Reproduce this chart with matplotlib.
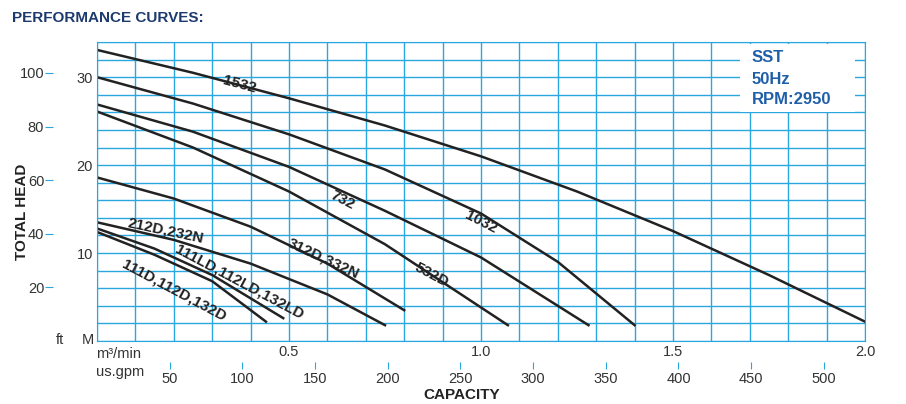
import matplotlib
matplotlib.use("Agg")
import matplotlib.pyplot as plt
from matplotlib.patches import Rectangle

plt.rcParams["font.family"] = ["Liberation Sans", "DejaVu Sans"]

# capacity in m3/min, head in m
c1532 = [0, 0.25, 0.5, 0.75, 1.0, 1.25, 1.5, 1.75, 2.0]
h1532 = [33.1, 30.5, 27.6, 24.5, 21.0, 17.0, 12.5, 7.5, 2.2]
c1032 = [0, 0.25, 0.5, 0.75, 1.0, 1.2, 1.4]
h1032 = [30.0, 27.0, 23.5, 19.5, 14.5, 9.0, 1.8]
c732 = [0, 0.25, 0.5, 0.75, 1.0, 1.28]
h732 = [26.9, 23.8, 19.8, 14.8, 9.5, 1.8]
c532 = [0, 0.25, 0.5, 0.75, 1.07]
h532 = [26.1, 22.0, 17.0, 11.0, 1.8]
c312 = [0, 0.2, 0.4, 0.6, 0.8]
h312 = [18.6, 16.2, 13.0, 8.8, 3.5]
c212 = [0, 0.2, 0.4, 0.6, 0.75]
h212 = [13.5, 11.5, 8.8, 5.3, 1.8]
c111ld = [0, 0.15, 0.3, 0.485]
h111ld = [12.8, 10.5, 7.5, 2.6]
c111d = [0, 0.15, 0.3, 0.44]
h111d = [12.4, 9.8, 6.8, 2.2]

curves = [(c1532, h1532), (c1032, h1032), (c732, h732), (c532, h532),
          (c312, h312), (c212, h212), (c111ld, h111ld), (c111d, h111d)]
labels = [("1532", 0.372, 29.2, -15), ("1032", 1.0, 13.5, -27), ("732", 0.64, 16.0, -27),
          ("532D", 0.87, 7.5, -28), ("312D,332N", 0.59, 9.4, -25),
          ("212D,232N", 0.18, 12.6, -12), ("111LD,112LD,132LD", 0.37, 6.7, -28),
          ("111D,112D,132D", 0.20, 5.8, -28)]

blue = "#2aa7df"
W, H = 906, 404
fig = plt.figure(figsize=(W / 100, H / 100), dpi=100)
L, R, B, T = 97, 865, 341, 42
pos = [L / W, (H - B) / H, (R - L) / W, (B - T) / H]
ax = fig.add_axes(pos)
ax.set_xlim(0, 2.0)
ax.set_ylim(0, 34)
ax.set_xticks([i * 0.1 for i in range(21)], minor=True)
ax.set_yticks(range(0, 35, 2), minor=True)
ax.grid(True, which="both", color=blue, lw=1)
ax.set_xticks([0.5, 1.0, 1.5, 2.0])
ax.set_xticklabels(["0.5", "1.0", "1.5", "2.0"], color="#333333", fontsize=10.5)
ax.set_yticks([10, 20, 30])
ax.set_yticklabels(["10", "20", "30"], color="#333333", fontsize=10.5)
ax.tick_params(which="both", length=0, pad=3)
for s in ax.spines.values():
    s.set_color(blue)

for c, h in curves:
    ax.plot(c, h, color="#222222", lw=1.8)
for t, x, y, r in labels:
    ax.text(x, y, t, rotation=r, fontsize=11, fontweight="bold", color="#222222",
            ha="center", va="center")

# ft axis
axf = fig.add_axes(pos, frameon=False)
axf.set_ylim(0, 34 * 3.2808)
axf.set_xticks([])
axf.set_yticks([20, 40, 60, 80, 100])
axf.spines["left"].set_visible(True)
axf.spines["left"].set_color(blue)
axf.spines["left"].set_position(("outward", 32))
axf.spines["left"].set_bounds(3, 34 * 3.2808)
axf.tick_params(axis="y", colors=blue, labelcolor="#333333", labelsize=10.5, length=6, pad=0)
axf.patch.set_alpha(0)

# gpm axis
axg = fig.add_axes(pos, frameon=False)
axg.set_xlim(0, 2.0 * 264.17)
axg.set_yticks([])
axg.set_xticks(range(50, 501, 50))
axg.spines["bottom"].set_visible(True)
axg.spines["bottom"].set_color(blue)
axg.spines["bottom"].set_linewidth(1.5)
axg.spines["bottom"].set_position(("outward", 20))
axg.tick_params(axis="x", direction="in", colors=blue, labelcolor="#333333",
                labelsize=10.5, length=5, pad=2)
axg.patch.set_alpha(0)

def px(x, y):
    return x / W, 1 - y / H

fig.text(*px(12, 18), "PERFORMANCE CURVES:", fontsize=11, fontweight="bold",
         color="#1d3a6e", va="center", family=["Liberation Sans Narrow", "Liberation Sans"])
fig.text(*px(22, 212), "TOTAL HEAD", rotation=90, fontsize=11, fontweight="bold",
         color="#222222", ha="center", va="center")
fig.text(*px(462, 395), "CAPACITY", fontsize=11, fontweight="bold",
         color="#222222", ha="center", va="center")
fig.text(*px(60, 340), "ft", fontsize=10.5, color="#333333", ha="center", va="center")
fig.text(*px(88, 340), "M", fontsize=10.5, color="#333333", ha="center", va="center")
fig.text(*px(96, 354), "m³/min", fontsize=10.5, color="#333333", va="center")
fig.text(*px(96, 372), "us.gpm", fontsize=10.5, color="#333333", va="center")

ax.add_patch(Rectangle(px(740, 112), 115 / W, 68 / H, transform=fig.transFigure,
                       facecolor="white", edgecolor="none", zorder=3))
for i, t in enumerate(["SST", "50Hz", "RPM:2950"]):
    fig.text(*px(752, 58 + i * 21), t, fontsize=12, fontweight="bold",
             color="#1f5fa8", va="center", zorder=4)

fig.savefig("out.png", dpi=100)
